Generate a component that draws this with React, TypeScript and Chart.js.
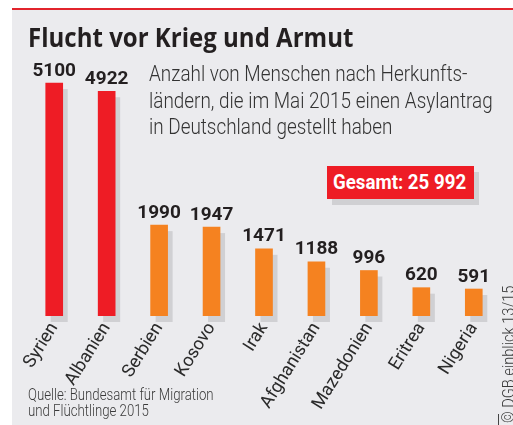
import React, { useEffect, useRef } from "react";
import { Chart, registerables } from "chart.js";

Chart.register(...registerables);

const countries = ["Syrien", "Albanien", "Serbien", "Kosovo", "Irak", "Afghanistan", "Mazedonien", "Eritrea", "Nigeria"];
const applications = [5100, 4922, 1990, 1947, 1471, 1188, 996, 620, 591];
const highlightCount = 2;

const titleText = "Flucht vor Krieg und Armut";
const subtitleLines = [
  "Anzahl von Menschen nach Herkunfts-",
  "ländern, die im Mai 2015 einen Asylantrag",
  "in Deutschland gestellt haben",
];
const totalLabel = "Gesamt: 25 992";
const sourceLines = ["Quelle: Bundesamt für Migration", "und Flüchtlinge 2015"];
const creditText = "© DGB einblick 13/15";

const RED = "#EE1C25";
const ORANGE = "#F58220";
const SHADOW = "#D0D0D3";
const PANEL = "#EBEBEE";
const SANS = 'Roboto, "Noto Sans", sans-serif';

const shadowPlugin = {
  id: "barShadow",
  beforeDatasetsDraw(chart: any) {
    const ctx = chart.ctx;
    const meta = chart.getDatasetMeta(0);
    ctx.save();
    ctx.fillStyle = SHADOW;
    meta.data.forEach((bar: any) => {
      const p = bar.getProps(["x", "y", "base", "width"], true);
      ctx.fillRect(p.x - p.width / 2 + 5, p.y + 6, p.width, p.base - p.y);
    });
    ctx.restore();
  },
};

const valueLabelPlugin = {
  id: "valueLabels",
  afterDatasetsDraw(chart: any) {
    const ctx = chart.ctx;
    const meta = chart.getDatasetMeta(0);
    const data = chart.data.datasets[0].data;
    ctx.save();
    ctx.fillStyle = "#231F20";
    ctx.font = `bold 19px ${SANS}`;
    ctx.textAlign = "center";
    ctx.textBaseline = "alphabetic";
    meta.data.forEach((bar: any, i: number) => {
      const p = bar.getProps(["x", "y"], true);
      ctx.fillText(String(data[i]), p.x, p.y - 7.5);
    });
    ctx.restore();
  },
};

export default function App() {
  const canvasRef = useRef<HTMLCanvasElement | null>(null);

  useEffect(() => {
    if (!canvasRef.current) return;
    const chart = new Chart(canvasRef.current, {
      type: "bar",
      data: {
        labels: countries,
        datasets: [
          {
            data: applications,
            backgroundColor: (c: any) => (c.dataIndex < highlightCount ? RED : ORANGE),
            barThickness: 17,
            borderWidth: 0,
          },
        ],
      },
      options: {
        responsive: false,
        animation: false,
        devicePixelRatio: 1,
        layout: { padding: { left: 16, right: 13, top: 32, bottom: 0 } },
        plugins: { legend: { display: false }, tooltip: { enabled: false } },
        scales: {
          x: {
            grid: { display: false, drawTicks: false },
            border: { display: false },
            ticks: {
              autoSkip: false,
              minRotation: 58,
              maxRotation: 58,
              padding: 3,
              color: "#2b2b2b",
              font: { family: SANS, size: 18, weight: "400" },
            },
            afterFit: (s: any) => {
              s.height = 109;
              s.paddingLeft = 0;
              s.paddingRight = 0;
            },
          },
          y: { display: false, min: 0, max: 6000 },
        },
      } as any,
      plugins: [shadowPlugin, valueLabelPlugin],
    });
    return () => chart.destroy();
  }, []);

  const narrow = (sx: number): React.CSSProperties => ({
    transform: `scaleX(${sx})`,
    transformOrigin: "left top",
    whiteSpace: "nowrap",
  });

  return (
    <div style={{ position: "fixed", left: 0, top: 0, width: 513, height: 425, background: "#fff", overflow: "hidden" }}>
      <div style={{ position: "absolute", left: 12, top: 9, width: 501, height: 416, background: PANEL }} />
      <div style={{ position: "absolute", left: 12, top: 8, width: 501, height: 1.5, background: "#E2242C" }} />
      <canvas
        ref={canvasRef}
        width={501}
        height={415}
        style={{ position: "absolute", left: 12, top: 10, width: 501, height: 415, display: "block" }}
      />
      <div
        style={{
          position: "absolute",
          left: 28,
          top: 22.7,
          fontFamily: '"Open Sans", sans-serif',
          fontWeight: 700,
          fontSize: 27,
          lineHeight: "27px",
          color: "#231F20",
          ...narrow(0.89),
        }}
      >
        {titleText}
      </div>
      <div
        style={{
          position: "absolute",
          left: 148.5,
          top: 60,
          fontFamily: SANS,
          fontWeight: 300,
          fontSize: 22.5,
          lineHeight: "26.7px",
          color: "#333",
          ...narrow(0.84),
        }}
      >
        {subtitleLines.map((l, i) => (
          <div key={i}>{l}</div>
        ))}
      </div>
      <div style={{ position: "absolute", left: 332, top: 172, width: 147, height: 33, background: SHADOW }} />
      <div
        style={{
          position: "absolute",
          left: 327,
          top: 166,
          width: 147,
          height: 33,
          background: RED,
        }}
      />
      <div
        style={{
          position: "absolute",
          left: 333,
          top: 166,
          color: "#fff",
          fontFamily: SANS,
          fontWeight: 700,
          fontSize: 21,
          lineHeight: "33px",
          ...narrow(0.89),
        }}
      >
        {totalLabel}
      </div>
      <div
        style={{
          position: "absolute",
          left: 27.5,
          top: 386.5,
          fontFamily: SANS,
          fontWeight: 300,
          fontSize: 16,
          lineHeight: "16.5px",
          color: "#3a3a3a",
          ...narrow(0.825),
        }}
      >
        {sourceLines.map((l, i) => (
          <div key={i}>{l}</div>
        ))}
      </div>
      <div style={{ position: "absolute", left: 498, top: 414, width: 1, height: 11, background: "#444" }} />
      <div
        style={{
          position: "absolute",
          left: 499.5,
          top: 423,
          fontFamily: SANS,
          fontWeight: 300,
          fontSize: 17,
          lineHeight: "17px",
          color: "#3a3a3a",
          whiteSpace: "nowrap",
          transform: "rotate(-90deg) scaleX(0.86)",
          transformOrigin: "left top",
        }}
      >
        {creditText}
      </div>
    </div>
  );
}
